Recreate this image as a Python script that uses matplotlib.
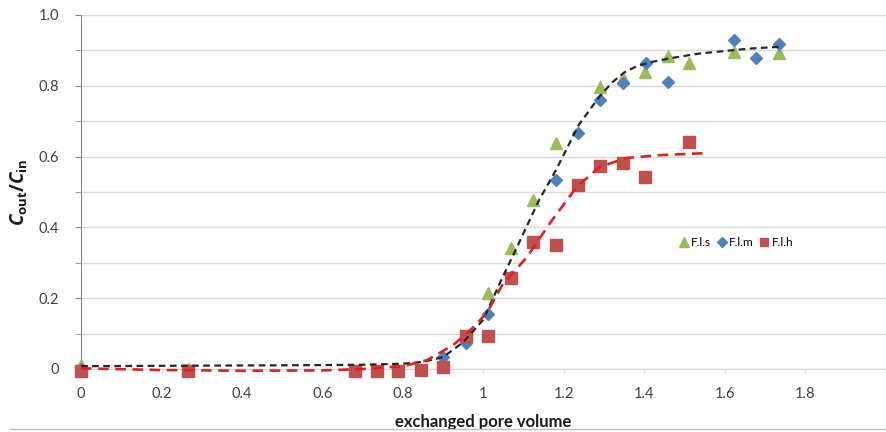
import matplotlib
matplotlib.use("Agg")
import matplotlib.pyplot as plt
from matplotlib.lines import Line2D
from matplotlib.ticker import MultipleLocator, FuncFormatter

plt.rcParams["font.family"] = ["Lato", "DejaVu Sans"]
plt.rcParams["mathtext.fontset"] = "custom"
plt.rcParams["mathtext.rm"] = "Open Sans:bold"
plt.rcParams["mathtext.it"] = "Open Sans:italic:bold"
plt.rcParams["mathtext.bf"] = "Open Sans:bold"

# measured points
fls_x = [0.0, 0.266, 0.90, 1.011, 1.068, 1.123, 1.18, 1.289, 1.346, 1.401, 1.458, 1.511, 1.622, 1.733]
fls_y = [0.01, 0.0, 0.025, 0.215, 0.342, 0.477, 0.638, 0.797, 0.822, 0.839, 0.884, 0.864, 0.896, 0.893]

flm_x = [0.0, 0.90, 0.957, 1.011, 1.068, 1.18, 1.235, 1.289, 1.346, 1.404, 1.458, 1.622, 1.676, 1.733]
flm_y = [0.0, 0.035, 0.073, 0.155, 0.26, 0.534, 0.666, 0.760, 0.809, 0.864, 0.81, 0.929, 0.879, 0.918]

flh_x = [0.0, 0.266, 0.681, 0.735, 0.788, 0.845, 0.899, 0.957, 1.011, 1.068, 1.122, 1.18,
         1.235, 1.289, 1.346, 1.401, 1.511]
flh_y = [-0.005, -0.005, -0.005, -0.005, -0.005, -0.004, 0.005, 0.092, 0.092, 0.257, 0.359, 0.35,
         0.52, 0.574, 0.582, 0.543, 0.641]

# fitted curves
fit_s_x = [0.0, 0.2, 0.4, 0.6, 0.7, 0.8, 0.85, 0.9, 0.95, 1.0, 1.044, 1.076, 1.138, 1.18,
           1.237, 1.287, 1.32, 1.35, 1.38, 1.42, 1.47, 1.535, 1.66, 1.733]
fit_s_y = [0.008, 0.009, 0.01, 0.011, 0.012, 0.015, 0.02, 0.034, 0.076, 0.14, 0.251, 0.327, 0.477,
           0.562, 0.69, 0.768, 0.81, 0.838, 0.855, 0.868, 0.879, 0.891, 0.905, 0.91]

fit_h_x = [0.0, 0.2, 0.4, 0.6, 0.7, 0.8, 0.86, 0.925, 0.966, 1.008, 1.048, 1.108, 1.165,
           1.232, 1.289, 1.355, 1.437, 1.556]
fit_h_y = [0.002, -0.003, -0.005, -0.004, 0.0, 0.008, 0.025, 0.068, 0.108, 0.158, 0.24, 0.316,
           0.412, 0.515, 0.571, 0.596, 0.604, 0.61]

GREEN = "#9BBB59"
BLUE = "#4F81BD"
RED = "#C0504D"

fig = plt.figure(figsize=(8.87, 4.32), dpi=100)
ax = fig.add_axes([81 / 887, 63 / 432, 805 / 887, 354 / 432])

ax.plot(fls_x, fls_y, "^", color=GREEN, ms=9, mec=GREEN, label="F.l.s", zorder=3, clip_on=False)
ax.plot(flm_x, flm_y, "D", color=BLUE, ms=6.5, mec=BLUE, label="F.l.m", zorder=3, clip_on=False)
ax.plot(flh_x, flh_y, "s", color=RED, ms=8, mec=RED, label="F.l.h", zorder=3, clip_on=False)

ax.plot(fit_s_x, fit_s_y, color="#262626", lw=1.6, dashes=(3, 2), zorder=4, clip_on=False)
ax.plot(fit_h_x, fit_h_y, color="#E02020", lw=1.9, dashes=(4, 2.5), zorder=4, clip_on=False)

ax.set_xlim(0, 2.0)
ax.set_ylim(0, 1.0)
ax.set_xticks([0, 0.2, 0.4, 0.6, 0.8, 1.0, 1.2, 1.4, 1.6, 1.8])
ax.yaxis.set_major_locator(MultipleLocator(0.2))
ax.yaxis.set_minor_locator(MultipleLocator(0.1))
ax.xaxis.set_major_formatter(FuncFormatter(lambda v, p: "0" if v == 0 else ("1" if v == 1 else f"{v:g}")))
ax.yaxis.set_major_formatter(FuncFormatter(lambda v, p: "0" if v == 0 else f"{v:.1f}"))

ax.grid(axis="y", which="both", color="#D9D9D9", lw=1)
ax.set_axisbelow(True)
for s in ["top", "right"]:
    ax.spines[s].set_visible(False)
ax.spines["left"].set_color("#868686")
ax.spines["bottom"].set_color("#D9D9D9")
ax.tick_params(axis="y", which="both", direction="out", length=4, color="#868686",
               labelsize=10.5, labelcolor="#404040", pad=12)
ax.tick_params(axis="x", direction="out", length=3, color="#D9D9D9",
               labelsize=10.5, labelcolor="#404040", pad=10)

ax.set_xlabel("exchanged pore volume", fontsize=12, fontweight="bold", color="#1a1a1a", labelpad=9)
ax.set_ylabel(r"$C_{\mathrm{out}}/C_{\mathrm{in}}$", fontsize=13.5, color="#1a1a1a", labelpad=6)

ax.legend(loc="center", bbox_to_anchor=(0.814, 0.356), ncol=3, frameon=False, fontsize=8.5,
          handlelength=0.8, handletextpad=0.2, columnspacing=0.5, markerscale=0.75)

fig.add_artist(Line2D([10 / 887, 1.0], [3 / 432, 3 / 432], color="#BFBFBF", lw=1))

fig.savefig("out.png", dpi=100)
